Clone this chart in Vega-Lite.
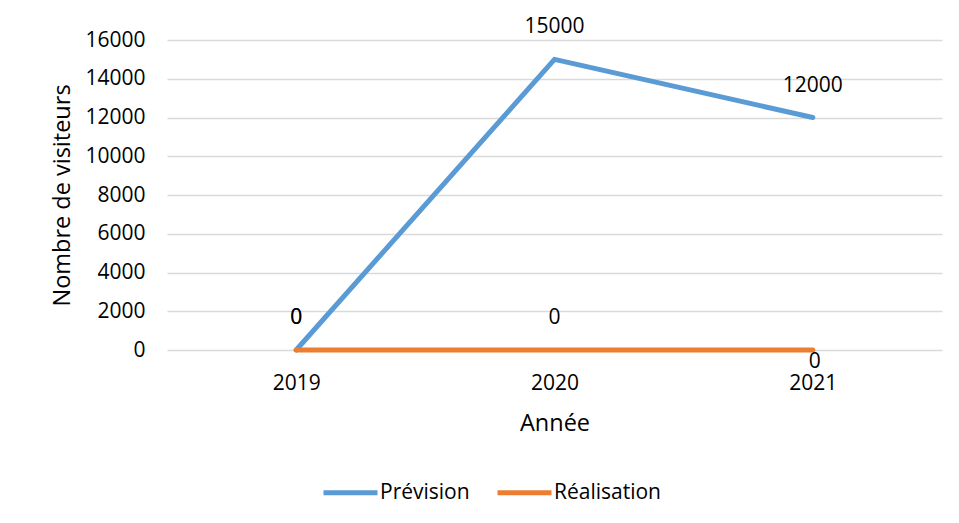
{
  "$schema": "https://vega.github.io/schema/vega-lite/v6.json",
  "width": 775,
  "height": 310,
  "autosize": {"type": "none"},
  "padding": {"left": 167, "top": 40, "right": 17, "bottom": 173},
  "background": "white",
  "config": {
    "font": "Open Sans",
    "view": {"stroke": null},
    "axis": {
      "labelFont": "Open Sans",
      "titleFont": "Open Sans",
      "labelColor": "#000000",
      "titleColor": "#000000",
      "labelFontSize": 21,
      "titleFontSize": 23.5,
      "titleFontWeight": "normal",
      "domain": false,
      "ticks": false
    },
    "legend": {
      "labelFont": "Open Sans",
      "labelFontSize": 21,
      "labelColor": "#000000"
    }
  },
  "data": {
    "values": [
      {"annee": "2019", "serie": "Prévision", "visiteurs": 0},
      {"annee": "2020", "serie": "Prévision", "visiteurs": 15000},
      {"annee": "2021", "serie": "Prévision", "visiteurs": 12000},
      {"annee": "2019", "serie": "Réalisation", "visiteurs": 0},
      {"annee": "2020", "serie": "Réalisation", "visiteurs": 0},
      {"annee": "2021", "serie": "Réalisation", "visiteurs": 0}
    ]
  },
  "encoding": {
    "x": {
      "field": "annee",
      "type": "ordinal",
      "scale": {"padding": 0.5},
      "axis": {"title": "Année", "labelAngle": 0, "labelPadding": 22, "titlePadding": 18, "grid": false}
    },
    "y": {
      "field": "visiteurs",
      "type": "quantitative",
      "scale": {"domain": [0, 16000], "nice": false},
      "axis": {
        "title": "Nombre de visiteurs",
        "values": [0, 2000, 4000, 6000, 8000, 10000, 12000, 14000, 16000],
        "format": "d",
        "grid": true,
        "gridColor": "#D9D9D9",
        "gridWidth": 1.5,
        "labelPadding": 22,
        "titlePadding": 10
      }
    }
  },
  "layer": [
    {
      "mark": {"type": "line", "strokeWidth": 5, "strokeCap": "round", "strokeJoin": "round"},
      "encoding": {
        "color": {
          "field": "serie",
          "type": "nominal",
          "scale": {"domain": ["Prévision", "Réalisation"], "range": ["#5B9BD5", "#ED7D31"]},
          "legend": {
            "title": null,
            "orient": "none",
            "legendX": 154,
            "legendY": 423,
            "direction": "horizontal",
            "symbolType": "stroke",
            "symbolSize": 2916,
            "symbolStrokeWidth": 5,
            "labelOffset": 0,
            "columnPadding": 17
          }
        }
      }
    },
    {
      "transform": [{"filter": "!(datum.serie == 'Réalisation' && datum.annee == '2021')"}],
      "mark": {"type": "text", "dy": -32, "fontSize": 21, "color": "#000000", "font": "Open Sans", "baseline": "middle"},
      "encoding": {"text": {"field": "visiteurs", "type": "quantitative", "format": "d"}}
    },
    {
      "transform": [{"filter": "datum.serie == 'Réalisation' && datum.annee == '2021'"}],
      "mark": {"type": "text", "dy": 12, "dx": 2, "fontSize": 21, "color": "#000000", "font": "Open Sans", "baseline": "middle"},
      "encoding": {"text": {"field": "visiteurs", "type": "quantitative", "format": "d"}}
    }
  ]
}
